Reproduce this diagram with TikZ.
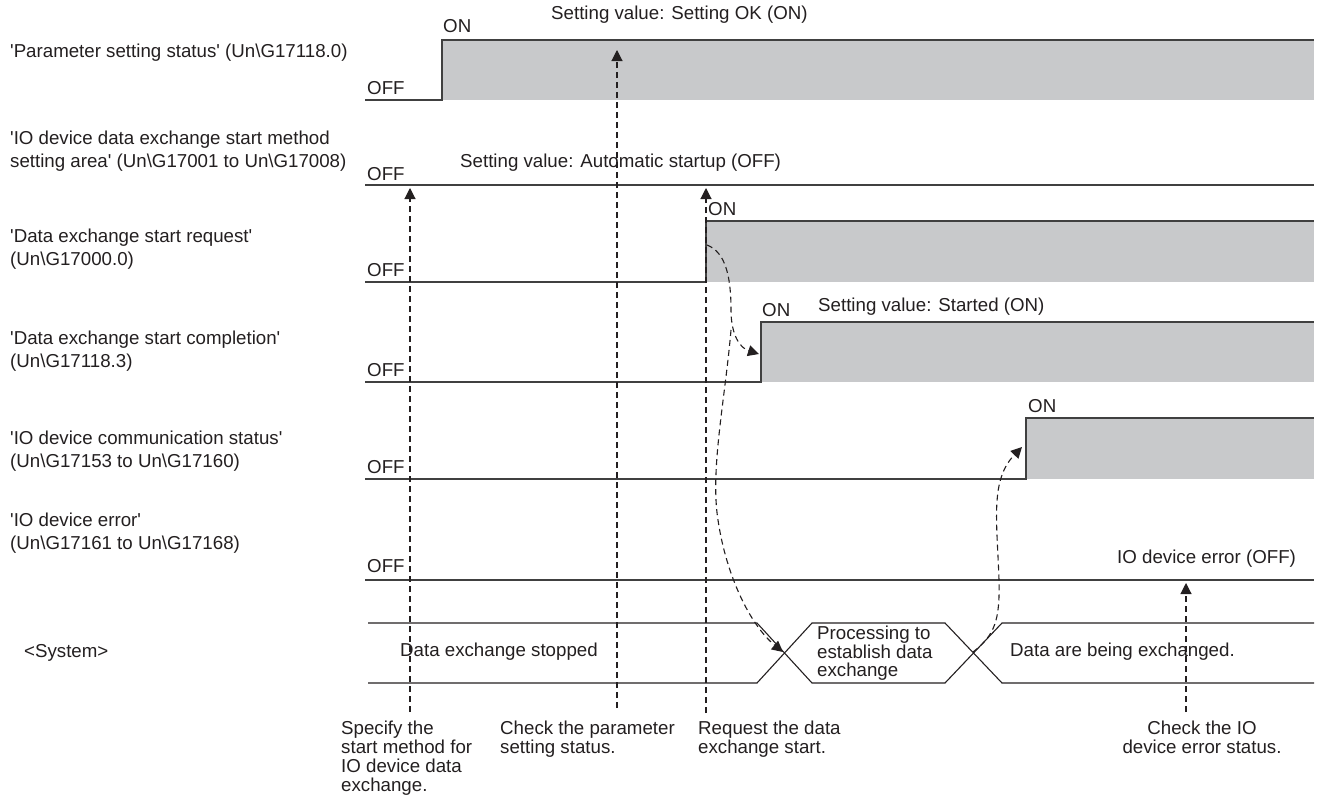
\documentclass[tikz,border=0pt]{standalone}
\usepackage{fontspec}
\setmainfont{Liberation Sans}[Ligatures=TeXOff]
\usepackage{tikz}
\usetikzlibrary{arrows.meta}
\definecolor{Wire}{HTML}{404040}
\definecolor{OnGrey}{HTML}{C8C9CB}
\definecolor{Ink}{HTML}{231F20}

\begin{document}
\begin{tikzpicture}[
  x=1pt,y=-1pt,
  every node/.style={font=\fontsize{18.7}{22.8}\selectfont,text=Ink,inner sep=0pt},
  lbl/.style={anchor=west},
  blk/.style={anchor=north west,align=left},
  step note/.style={font=\fontsize{18.7}{19}\selectfont},
  wire/.style={draw=Wire,line width=1.2pt},
  onarea/.style={fill=OnGrey},
  cue/.style={draw=Ink,line width=1.1pt,dash pattern=on 6pt off 4pt,-{Triangle[length=11pt,width=11pt]}}
]
\useasboundingbox (0,0) rectangle (1318,806);

% signal names
\node[lbl] (sig1) at (10,53) {'Parameter setting status' (Un\textbackslash G17118.0)};
\node[blk] (sig2) at (10,131) {'IO device data exchange start method\\setting area' (Un\textbackslash G17001 to Un\textbackslash G17008)};
\node[blk] (sig3) at (10,229) {'Data exchange start request'\\(Un\textbackslash G17000.0)};
\node[blk] (sig4) at (10,331) {'Data exchange start completion'\\(Un\textbackslash G17118.3)};
\node[blk] (sig5) at (10,431) {'IO device communication status'\\(Un\textbackslash G17153 to Un\textbackslash G17160)};
\node[blk] (sig6) at (10,513) {'IO device error'\\(Un\textbackslash G17161 to Un\textbackslash G17168)};
\node[lbl] (sysname) at (24,653) {<System>};

% waveforms
\fill[onarea] (442,40) rectangle (1314,100);
\draw[wire] (365,100) -- (442,100) -- (442,40) -- (1314,40);
\draw[wire] (365,185) -- (1314,185);
\fill[onarea] (706,221) rectangle (1314,282);
\draw[wire] (365,282) -- (706,282) -- (706,221) -- (1314,221);
\fill[onarea] (761,322) rectangle (1314,382);
\draw[wire] (365,382) -- (761,382) -- (761,322) -- (1314,322);
\fill[onarea] (1026,418) rectangle (1314,479);
\draw[wire] (365,479) -- (1026,479) -- (1026,418) -- (1314,418);
\draw[wire] (365,580) -- (1314,580);

% system state bus
\draw[draw=Ink,line width=1.1pt] (368,623) -- (757,623) -- (812,683) -- (945,683) -- (1002,623) -- (1314,623);
\draw[draw=Ink,line width=1.1pt] (368,683) -- (757,683) -- (812,623) -- (945,623) -- (1002,683) -- (1314,683);

% levels and values
\foreach \y/\n in {88/1,174/2,270/3,370/4,467/5,566/6}
  \node[lbl] (off\n) at (367,\y) {OFF};
\node[lbl] (on1) at (443,26) {ON};
\node[lbl] (okval) at (551,15) {Setting value: Setting OK (ON)};
\node[lbl] (autoval) at (460,163) {Setting value: Automatic startup (OFF)};
\node[lbl] (on3) at (708,209) {ON};
\node[lbl] (on4) at (762,310) {ON};
\node[lbl] (startval) at (818,307) {Setting value: Started (ON)};
\node[lbl] (on5) at (1028,406) {ON};
\node[lbl] (errval) at (1117,559) {IO device error (OFF)};

% system states
\node[lbl] (stopped) at (400,652) {Data exchange stopped};
\node[blk,font=\fontsize{18.7}{18.5}\selectfont] (linking) at (817,626) {Processing to\\establish data\\exchange};
\node[lbl] (running) at (1010,652) {Data are being exchanged.};

% user steps
\node[blk,step note] (specify) at (341,721) {Specify the\\start method for\\IO device data\\exchange.};
\node[blk,step note] (checkpar) at (500,721) {Check the parameter\\setting status.};
\node[blk,step note] (request) at (698,721) {Request the data\\exchange start.};
\node[anchor=north,align=center,step note] (checkerr) at (1202,721) {Check the IO\\device error status.};

\coordinate (specify-top) at (410,712);
\coordinate (checkpar-top) at (617,708);
\coordinate (request-top) at (706,713);
\coordinate (checkerr-top) at (1186,712);
\coordinate (mode-set) at (410,188);
\coordinate (par-ok) at (617,50);
\coordinate (req-on) at (706,188);
\coordinate (err-off) at (1186,583);

\draw[cue] (specify-top) -- (mode-set);
\draw[cue] (checkpar-top) -- (par-ok);
\draw[cue] (request-top) -- (req-on);
\draw[cue] (checkerr-top) -- (err-off);

% handshakes
\coordinate (req-edge) at (707,245);
\coordinate (done-edge) at (759,354);
\coordinate (fork) at (731,330);
\coordinate (cross1) at (783,652);
\coordinate (cross2) at (973,652);
\coordinate (comm-edge) at (1022,447);
\draw[cue] (req-edge) .. controls (725,252) and (731,275) .. (731,310)
  .. controls (731,335) and (740,348) .. (done-edge);
\draw[cue] (fork) .. controls (725,400) and (710,470) .. (718,520)
  .. controls (726,575) and (750,625) .. (cross1);
\draw[cue] (cross2) .. controls (995,635) and (1000,620) .. (999,580)
  .. controls (997,520) and (990,480) .. (comm-edge);
\end{tikzpicture}
\end{document}
